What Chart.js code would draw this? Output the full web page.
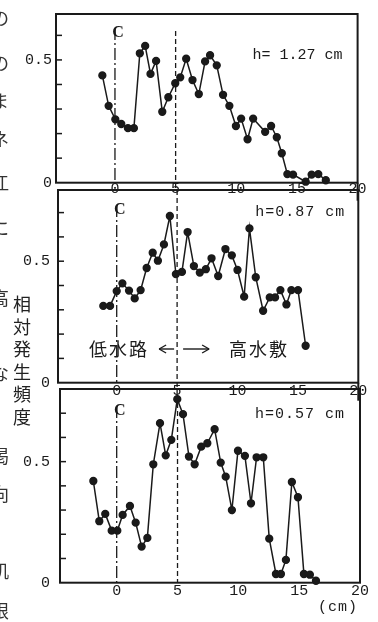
<!DOCTYPE html>
<html lang="ja">
<head>
<meta charset="utf-8">
<title>相対発生頻度</title>
<script src="https://cdn.jsdelivr.net/npm/chart.js@4.4.0/dist/chart.umd.min.js"></script>
<style>
  html, body { margin: 0; padding: 0; background: #fff; }
  #wrap { position: relative; width: 378px; height: 622px; overflow: hidden; background: #fff; }
  canvas { position: absolute; left: 0; top: 0; }
  .jp { position: absolute; font-family: "Noto Sans CJK JP", sans-serif; font-size: 18px; color: #222; line-height: 18px; }
  #ylab { left: 13px; top: 292px; width: 18px; line-height: 22.5px; text-align: center; word-break: break-all; }
  .edge { left: -9px; color: #333; }
  #unit { position: absolute; left: 318px; top: 599px; font: 15px "Liberation Mono", monospace; letter-spacing: 1px; color: #222; }
</style>
</head>
<body>
<div id="wrap">
  <canvas id="c1" width="378" height="622"></canvas>
  <canvas id="c2" width="378" height="622"></canvas>
  <canvas id="c3" width="378" height="622"></canvas>
  <div id="ylab" class="jp">相対発生頻度</div>
  <div class="jp edge" style="top:8px">の</div>
  <div class="jp edge" style="top:53px">の</div>
  <div class="jp edge" style="top:91px">ま</div>
  <div class="jp edge" style="top:129px">ネ</div>
  <div class="jp edge" style="top:173px">江</div>
  <div class="jp edge" style="top:218px">に</div>
  <div class="jp edge" style="top:288px">高</div>
  <div class="jp edge" style="top:363px">な</div>
  <div class="jp edge" style="top:446px">渇</div>
  <div class="jp edge" style="top:484px">向</div>
  <div class="jp edge" style="top:561px">机</div>
  <div class="jp edge" style="top:601px">限</div>
  <div id="unit">(cm)</div>
</div>
<script>
// Data (x: cm from the channel centre, y: relative frequency)
const xTicks = [0, 5, 10, 15, 20];
const yTicksTop = [0, 0.1, 0.2, 0.3, 0.4, 0.5, 0.6];
const yTicksLow = [0, 0.1, 0.2, 0.3, 0.4, 0.5, 0.6, 0.7];

// h = 1.27 cm
const xs127 = [-1.04, -0.52, 0.03, 0.52, 1.07, 1.56, 2.05, 2.49, 2.93, 3.39, 3.9, 4.4, 4.97, 5.38, 5.87, 6.39, 6.91, 7.43, 7.84, 8.39, 8.91, 9.43, 9.97, 10.4, 10.93, 11.39, 12.38, 12.87, 13.34, 13.75, 14.21, 14.68, 15.72, 16.21, 16.76, 17.38];
const ys127 = [0.437, 0.313, 0.258, 0.239, 0.222, 0.222, 0.527, 0.557, 0.443, 0.496, 0.289, 0.348, 0.405, 0.429, 0.505, 0.418, 0.361, 0.494, 0.519, 0.478, 0.358, 0.313, 0.231, 0.261, 0.177, 0.261, 0.207, 0.231, 0.185, 0.12, 0.035, 0.033, 0.004, 0.033, 0.035, 0.01];

// h = 0.87 cm
const xs087 = [-1.11, -0.55, 0, 0.47, 1.02, 1.49, 1.98, 2.48, 2.98, 3.41, 3.91, 4.4, 4.9, 5.4, 5.87, 6.39, 6.88, 7.38, 7.85, 8.4, 9.0, 9.53, 10.0, 10.55, 10.99, 11.51, 12.12, 12.67, 13.11, 13.55, 14.05, 14.46, 15.01, 15.64];
const ys087 = [0.316, 0.316, 0.377, 0.409, 0.379, 0.347, 0.381, 0.472, 0.535, 0.502, 0.569, 0.686, 0.447, 0.456, 0.62, 0.48, 0.453, 0.467, 0.512, 0.439, 0.55, 0.524, 0.464, 0.354, 0.635, 0.434, 0.296, 0.351, 0.351, 0.381, 0.322, 0.381, 0.381, 0.152];

// h = 0.57 cm
const xs057 = [-1.92, -1.43, -0.94, -0.41, 0.05, 0.49, 1.09, 1.56, 2.05, 2.52, 3.01, 3.56, 4.03, 4.49, 4.98, 5.45, 5.94, 6.41, 6.95, 7.45, 8.05, 8.55, 8.96, 9.47, 9.97, 10.54, 11.04, 11.5, 12.05, 12.54, 13.09, 13.5, 13.91, 14.4, 14.9, 15.39, 15.88, 16.38];
const ys057 = [0.42, 0.254, 0.284, 0.215, 0.215, 0.28, 0.317, 0.248, 0.149, 0.185, 0.489, 0.659, 0.526, 0.59, 0.758, 0.696, 0.521, 0.489, 0.562, 0.576, 0.634, 0.496, 0.438, 0.3, 0.545, 0.524, 0.328, 0.518, 0.518, 0.182, 0.036, 0.036, 0.094, 0.416, 0.353, 0.036, 0.033, 0.008];

const ink = '#1a1a1a';
const mono = '"Liberation Mono", monospace';

// Helpers
function seg(ctx, x1, y1, x2, y2) {
  ctx.beginPath();
  ctx.moveTo(x1, y1);
  ctx.lineTo(x2, y2);
  ctx.stroke();
}

// Frame, inner ticks, centre/boundary lines and labels
const panelDecor = {
  id: 'panelDecor',
  beforeDatasetsDraw(chart, args, o) {
    const { ctx, chartArea: a, scales: { x } } = chart;
    const x0 = x.getPixelForValue(0);
    const x5 = x.getPixelForValue(5);
    ctx.save();
    ctx.strokeStyle = ink;
    ctx.lineWidth = 1.3;
    ctx.setLineDash([12, 3, 2, 3]);
    seg(ctx, x0, a.top + o.zeroTop, x0, a.bottom);
    ctx.setLineDash([5, 3]);
    seg(ctx, x5, a.top + o.fiveTop, x5, a.bottom + o.fiveExt);
    ctx.setLineDash([]);

    ctx.fillStyle = ink;
    ctx.font = 'bold 16px "Liberation Serif", serif';
    ctx.textAlign = 'center';
    ctx.textBaseline = 'middle';
    ctx.fillText('C', x0 + 3, a.top + o.zeroTop + 5);

    ctx.font = '15px ' + mono;
    ctx.textAlign = 'left';
    ctx.letterSpacing = o.hSpacing;
    ctx.fillText(o.hText, a.right - o.hDx, a.top + o.hDy);
    ctx.letterSpacing = '0px';

    if (o.zones) {
      const yy = a.top + 159;
      ctx.font = '18px "Noto Sans CJK JP", sans-serif';
      ctx.letterSpacing = '2px';
      ctx.fillText('低水路', x5 - 88, yy);
      ctx.fillText('高水敷', x5 + 52, yy);
      ctx.letterSpacing = '0px';
      ctx.lineWidth = 1.4;
      seg(ctx, x5 - 18, yy, x5 - 3, yy);
      seg(ctx, x5 - 18, yy, x5 - 11, yy - 4);
      seg(ctx, x5 - 18, yy, x5 - 11, yy + 4);
      seg(ctx, x5 + 6, yy, x5 + 32, yy);
      seg(ctx, x5 + 32, yy, x5 + 25, yy - 4);
      seg(ctx, x5 + 32, yy, x5 + 25, yy + 4);
    }
    ctx.restore();
  },
  afterDatasetsDraw(chart, args, o) {
    const { ctx, chartArea: a, scales: { y } } = chart;
    ctx.save();
    ctx.strokeStyle = ink;
    ctx.lineWidth = 2;
    ctx.strokeRect(a.left, a.top, a.right - a.left, a.bottom - a.top);
    if (o.rightExt) seg(ctx, a.right, a.bottom, a.right, a.bottom + o.rightExt);
    ctx.lineWidth = 1.5;
    y.ticks.forEach(t => {
      if (t.value === 0) return;
      const py = y.getPixelForValue(t.value);
      seg(ctx, a.left, py, a.left + 6, py);
    });
    ctx.restore();
  }
};

function makePanel(id, xs, ys, yTicks, cfg) {
  const points = xs.map((v, i) => ({ x: v, y: ys[i] }));
  return new Chart(document.getElementById(id), {
    type: 'line',
    data: {
      datasets: [{
        data: points,
        borderColor: ink,
        backgroundColor: ink,
        borderWidth: 1.5,
        pointRadius: 3.4,
        pointHoverRadius: 3.4,
        pointBackgroundColor: ink,
        pointBorderColor: ink,
        tension: 0,
        clip: false
      }]
    },
    options: {
      responsive: false,
      animation: false,
      events: [],
      layout: { padding: cfg.pad },
      plugins: {
        legend: { display: false },
        tooltip: { enabled: false },
        panelDecor: cfg.decor
      },
      scales: {
        x: {
          type: 'linear',
          min: cfg.xMin,
          max: 20,
          afterBuildTicks: s => { s.ticks = xTicks.map(v => ({ value: v })); },
          afterFit: s => { s.height = 20; },
          grid: { display: false, drawTicks: false },
          border: { display: false },
          ticks: {
            autoSkip: false,
            maxRotation: 0,
            padding: cfg.xPad,
            color: ink,
            font: { family: mono, size: 15, lineHeight: 1 },
            callback: v => String(v)
          }
        },
        y: {
          min: 0,
          max: cfg.yMax,
          afterBuildTicks: s => { s.ticks = yTicks.map(v => ({ value: v })); },
          afterFit: s => { s.width = 40; },
          grid: { display: false, drawTicks: false },
          border: { display: false },
          ticks: {
            autoSkip: false,
            padding: cfg.yPad,
            color: ink,
            font: { family: mono, size: 15, lineHeight: 1 },
            callback: v => (v === 0 ? '0' : v === 0.5 ? '0.5' : '')
          }
        }
      }
    },
    plugins: [panelDecor]
  });
}

makePanel('c1', xs127, ys127, yTicksTop, {
  pad: { left: 16, top: 14, right: 20.4, bottom: 419.3 },
  xMin: -4.86, yMax: 0.687, xPad: -1.5, yPad: 4,
  decor: { zeroTop: 14, fiveTop: 17, fiveExt: 8, rightExt: 18, hText: 'h= 1.27 cm', hDx: 105, hDy: 41, hSpacing: '0px' }
});

makePanel('c2', xs087, ys087, yTicksLow, {
  pad: { left: 18, top: 190, right: 19.7, bottom: 219.3 },
  xMin: -4.86, yMax: 0.793, xPad: 1, yPad: 8,
  decor: { zeroTop: 15, fiveTop: 0, fiveExt: 12, rightExt: 18, hText: 'h=0.87 cm', hDx: 103, hDy: 22, hSpacing: '1px', zones: true }
});

makePanel('c3', xs057, ys057, yTicksLow, {
  pad: { left: 20, top: 389, right: 18, bottom: 19.3 },
  xMin: -4.66, yMax: 0.80, xPad: 1, yPad: 10,
  decor: { zeroTop: 17, fiveTop: 6, fiveExt: 0, rightExt: 0, hText: 'h=0.57 cm', hDx: 105, hDy: 25, hSpacing: '1px' }
});
</script>
</body>
</html>
